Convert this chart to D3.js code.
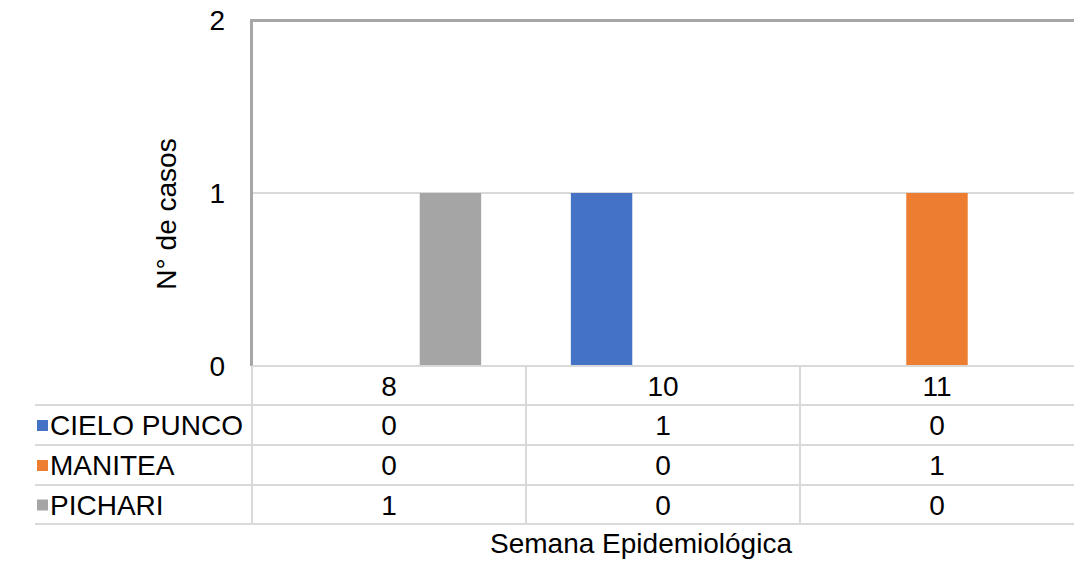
<!DOCTYPE html>
<html><head><meta charset="utf-8">
<script src="https://cdn.jsdelivr.net/npm/d3@7"></script>
<style>body{margin:0;background:#fff;} svg{display:block;}</style>
</head><body>
<svg id="c" width="1074" height="564"></svg>
<script>
const categories = ["8", "10", "11"];
const seriesNames = ["CIELO PUNCO", "MANITEA", "PICHARI"];
const cieloPunco = [0, 1, 0];
const manitea = [0, 0, 1];
const pichari = [1, 0, 0];
const colors = ["#4472c4", "#ed7d31", "#a5a5a5"];
const yTicks = [0, 1, 2];

const values = [cieloPunco, manitea, pichari];
const svg = d3.select("#c");
const font = "'Liberation Sans', Arial, sans-serif";
const FS = 28;
const L = 252, R = 1074, T = 20, B = 366;
const x = d3.scaleBand().domain(categories).range([L, R]);
const xs = d3.scaleBand().domain(seriesNames).range([0, x.bandwidth()]).paddingOuter(0.73).paddingInner(0);
const y = d3.scaleLinear().domain([0, 2]).range([B, T]);

// gridlines
svg.append("g").selectAll("line").data(yTicks.filter(d => d > 0 && d < 2)).join("line")
  .attr("x1", L).attr("x2", R).attr("y1", d => y(d)).attr("y2", d => y(d))
  .attr("stroke", "#d9d9d9").attr("stroke-width", 2);

// bars
seriesNames.forEach((s, i) => {
  svg.append("g").selectAll("rect").data(categories.map((c, j) => ({c, v: values[i][j]}))).join("rect")
    .attr("x", d => x(d.c) + xs(s)).attr("width", xs.bandwidth())
    .attr("y", d => y(d.v)).attr("height", d => B - y(d.v))
    .attr("fill", colors[i]);
});

// axis lines: top and left
svg.append("line").attr("x1", L).attr("x2", R).attr("y1", T + 0.5).attr("y2", T + 0.5).attr("stroke", "#a6a6a6").attr("stroke-width", 3);
svg.append("line").attr("x1", L - 0.5).attr("x2", L - 0.5).attr("y1", T - 1).attr("y2", B).attr("stroke", "#a6a6a6").attr("stroke-width", 3);

// y tick labels
svg.append("g").selectAll("text").data(yTicks).join("text")
  .attr("x", 225).attr("y", d => y(d) + 10)
  .attr("text-anchor", "end").attr("font-family", font).attr("font-size", FS).attr("fill", "#000")
  .text(d => d);

// y title
svg.append("text").attr("transform", "translate(176,214) rotate(-90)")
  .attr("text-anchor", "middle").attr("font-family", font).attr("font-size", FS).attr("fill", "#000")
  .text("N° de casos");

// data table
const rowTops = [366, 405, 445, 485, 524];
const TL = 35;
const grid = svg.append("g").attr("stroke", "#d9d9d9").attr("stroke-width", 2);
grid.append("line").attr("x1", L).attr("x2", R).attr("y1", 366).attr("y2", 366);
rowTops.slice(1).forEach(r => grid.append("line").attr("x1", TL).attr("x2", R).attr("y1", r).attr("y2", r));
grid.append("line").attr("x1", L).attr("x2", L).attr("y1", 366).attr("y2", 524);
categories.slice(1).forEach(c => grid.append("line").attr("x1", x(c)).attr("x2", x(c)).attr("y1", 366).attr("y2", 524));

// header row (category labels)
svg.append("g").selectAll("text").data(categories).join("text")
  .attr("x", d => x(d) + x.bandwidth() / 2).attr("y", (rowTops[0] + rowTops[1]) / 2 + 10)
  .attr("text-anchor", "middle").attr("font-family", font).attr("font-size", FS).attr("fill", "#000")
  .text(d => d);

seriesNames.forEach((s, i) => {
  const cy = (rowTops[i + 1] + rowTops[i + 2]) / 2;
  svg.append("rect").attr("x", 37).attr("y", cy - 5).attr("width", 11).attr("height", 11).attr("fill", colors[i]);
  svg.append("text").attr("x", 50).attr("y", cy + 10).attr("font-family", font).attr("font-size", FS).attr("fill", "#000").text(s);
  svg.append("g").selectAll("text").data(categories).join("text")
    .attr("x", (d) => x(d) + x.bandwidth() / 2).attr("y", cy + 10)
    .attr("text-anchor", "middle").attr("font-family", font).attr("font-size", FS).attr("fill", "#000")
    .text((d, j) => values[i][j]);
});

// x title
svg.append("text").attr("x", 641).attr("y", 553)
  .attr("text-anchor", "middle").attr("font-family", font).attr("font-size", FS).attr("fill", "#000")
  .text("Semana Epidemiológica");
</script>
</body></html>
